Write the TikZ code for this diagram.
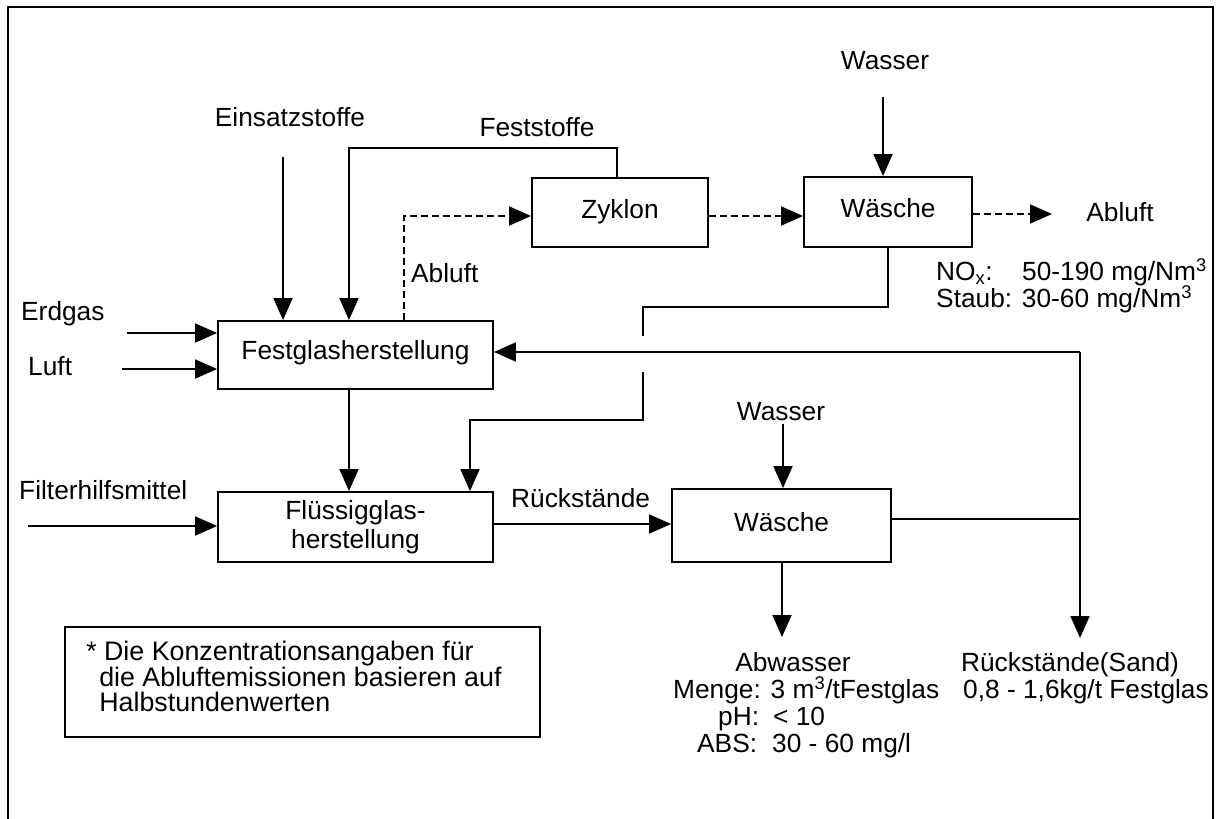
\documentclass[tikz,border=0pt]{standalone}
\usepackage{fontspec}
\setmainfont{Liberation Sans}
\usetikzlibrary{arrows.meta}

\tikzset{
  ln/.style={line width=1.8pt},
  arr/.style={ln, -{Triangle[length=22pt,width=19pt]}},
  darr/.style={arr, dash pattern=on 7pt off 4pt},
  box/.style={draw, ln, inner sep=0pt, text height=1.1em, text depth=0pt},
  lbl/.style={inner sep=0pt, text height=0.72em, text depth=0.2em},
}

\begin{document}
\begin{tikzpicture}[x=1pt, y=-1pt, font=\fontsize{26.3}{31}\selectfont]
\useasboundingbox (0,0) rectangle (1216,819);

% outer frame (bottom edge lies below the page)
\draw[line width=2pt] (8,840) -- (8,7) -- (1213,7) -- (1213,840);

% process boxes
\node[box, text height=0.8em, minimum width=275pt, minimum height=68pt] (festglas) at (355.5,355) {Festglasherstellung};
\node[box, minimum width=176pt, minimum height=69pt] (zyklon) at (620,212.5) {Zyklon};
\node[box, minimum width=168pt, minimum height=70pt] (wtop) at (888,212) {Wäsche};
\node[box, minimum width=275pt, minimum height=70pt, align=center, text height=, text depth=,
      font=\fontsize{26.3}{29}\selectfont] (fluessig) at (355.5,527) {Flüssigglas-\\herstellung};
\node[box, minimum width=219pt, minimum height=73pt] (wbot) at (781.5,525.5) {Wäsche};

% footnote box
\node[draw, ln, minimum width=475pt, minimum height=110pt, inner sep=0pt] (note) at (302.5,682) {};
\node[anchor=north west, inner sep=0pt, align=left, font=\fontsize{26.8}{25.5}\selectfont] (noteText)
  at ([xshift=22pt,yshift=-15pt]note.north west)
  {* Die Konzentrationsangaben für\\
   \hspace*{13pt}die Abluftemissionen basieren auf\\
   \hspace*{13pt}Halbstundenwerten};

% stream labels
\node[lbl] (lEins) at (290,124) {Einsatzstoffe};
\node[lbl] (lFest) at (537,134) {Feststoffe};
\node[lbl] (lW1) at (885,67) {Wasser};
\node[lbl, anchor=west] (lAbl1) at (411,280) {Abluft};
\node[lbl] (lAbl2) at (1120,219) {Abluft};
\node[lbl, anchor=west] (lNox) at (936,278) {NO\textsubscript{x}:};
\node[lbl, anchor=west] (lNoxV) at (1022,278) {50-190 mg/Nm\textsuperscript{3}};
\node[lbl, anchor=west] (lStaub) at (936,305) {Staub: 30-60 mg/Nm\textsuperscript{3}};
\node[lbl, anchor=west] (lErd) at (21,318) {Erdgas};
\node[lbl, anchor=west] (lLuft) at (28,373) {Luft};
\node[lbl, anchor=west] (lFilt) at (19,497) {Filterhilfsmittel};
\node[lbl, anchor=west] (lRueck) at (511,505) {Rückstände};
\node[lbl] (lW2) at (781,418) {Wasser};
\node[lbl] (lAbw) at (793,669) {Abwasser};
\node[lbl, anchor=west] (lMenge) at (673,696) {Menge: 3 m\textsuperscript{3}/tFestglas};
\node[lbl, anchor=west] (lPh) at (718,723) {pH:};
\node[lbl, anchor=west] (lPhV) at (773,723) {< 10};
\node[lbl, anchor=west] (lAbs) at (697,750) {ABS:};
\node[lbl, anchor=west] (lAbsV) at (772,750) {30 - 60 mg/l};
\node[lbl] (lSand) at (1070,669) {Rückstände(Sand)};
\node[lbl, anchor=west] (lSandV) at (963,696) {0,8 - 1,6kg/t Festglas};

% free ends and bends
\coordinate (einTop) at (283,157);
\coordinate (fsTop) at (349,148);
\coordinate (w1Top) at (883,97);
\coordinate (ablEnd) at (1052,214);
\coordinate (egStart) at (127,333);
\coordinate (luStart) at (122,369);
\coordinate (fiStart) at (28,526);
\coordinate (w2Top) at (783,424);
\coordinate (abwTip) at (782,637);
\coordinate (rj) at (1080,352);
\coordinate (sandTip) at (1080,638);
\coordinate (retA) at (643,307);
\coordinate (gapTop) at (643,336);
\coordinate (gapBot) at (643,372);
\coordinate (retB) at (470,420);

% feeds into the glass melting
\draw[arr] (einTop) -- (einTop |- festglas.north);
\draw[arr] ([xshift=-3pt]zyklon.north) |- (fsTop) -- (fsTop |- festglas.north);
\draw[arr] (egStart) -- (egStart -| festglas.west);
\draw[arr] (luStart) -- (luStart -| festglas.west);

% off-gas path
\draw[darr] ([xshift=48.5pt]festglas.north) |- ([yshift=-3.5pt]zyklon.west);
\draw[darr] ([yshift=-3.5pt]zyklon.east) -- ([yshift=-3.5pt]zyklon.east -| wtop.west);
\draw[darr] (wtop.east |- ablEnd) -- (ablEnd);
\draw[arr] (w1Top) -- (w1Top |- wtop.north);

% scrubber water to the dissolving step
\draw[ln] (wtop.south) |- (retA) -- (gapTop);
\draw[arr] (gapBot) |- (retB) -- (retB |- fluessig.north);

% solid glass to water glass
\draw[arr] ([xshift=-6.5pt]festglas.south) -- ([xshift=-6.5pt]fluessig.north);
\draw[arr] (fiStart) -- (fiStart -| fluessig.west);
\draw[arr] ([yshift=3pt]fluessig.east) -- ([yshift=3pt]fluessig.east -| wbot.west);

% residue washing
\draw[arr] (w2Top) -- (w2Top |- wbot.north);
\draw[arr] (abwTip |- wbot.south) -- (abwTip);
\draw[ln] ([yshift=6.5pt]wbot.east) -- ([yshift=6.5pt]wbot.east -| rj);
\draw[arr] (rj) -- (rj -| festglas.east);
\draw[arr] (rj) -- (sandTip);
\end{tikzpicture}
\end{document}
